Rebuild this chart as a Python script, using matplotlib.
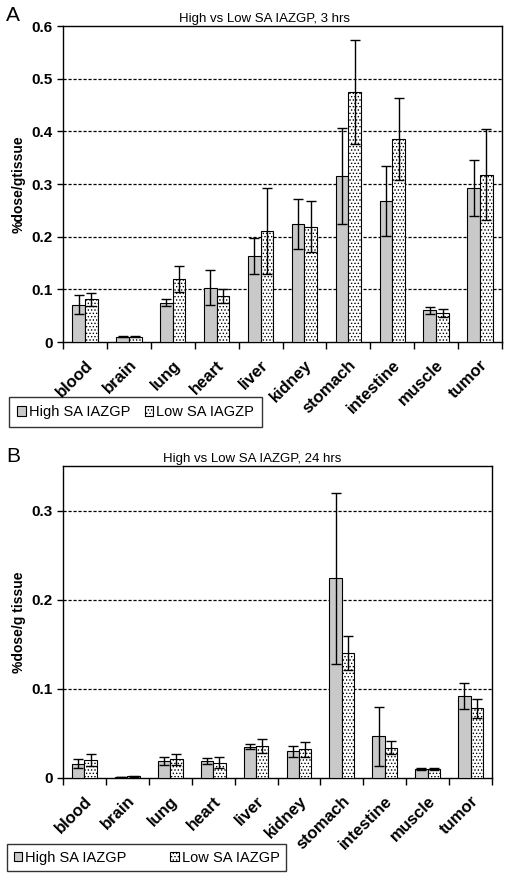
import numpy as np
import matplotlib
matplotlib.use('Agg')
import matplotlib.pyplot as plt
from matplotlib.patches import Patch

plt.rcParams['font.family'] = ['Liberation Sans', 'DejaVu Sans']
plt.rcParams['hatch.linewidth'] = 0.6

tissues = ['blood', 'brain', 'lung', 'heart', 'liver', 'kidney',
           'stomach', 'intestine', 'muscle', 'tumor']

# panel A, 3 hrs
high_3h = [0.071, 0.010, 0.075, 0.103, 0.164, 0.224, 0.315, 0.268, 0.060, 0.292]
high_3h_err = [0.018, 0.001, 0.006, 0.033, 0.034, 0.048, 0.091, 0.067, 0.007, 0.053]
low_3h = [0.081, 0.010, 0.120, 0.088, 0.211, 0.219, 0.475, 0.386, 0.055, 0.318]
low_3h_err = [0.013, 0.001, 0.025, 0.013, 0.082, 0.048, 0.099, 0.078, 0.007, 0.087]

# panel B, 24 hrs
high_24h = [0.016, 0.001, 0.019, 0.019, 0.035, 0.030, 0.224, 0.047, 0.0105, 0.092]
high_24h_err = [0.005, 0.0003, 0.004, 0.003, 0.003, 0.006, 0.096, 0.033, 0.001, 0.015]
low_24h = [0.020, 0.002, 0.021, 0.017, 0.036, 0.032, 0.140, 0.034, 0.0105, 0.078]
low_24h_err = [0.007, 0.0005, 0.006, 0.006, 0.008, 0.008, 0.019, 0.007, 0.001, 0.011]

GRAY = '#c9c9c9'


def draw_panel(ax, high, high_err, low, low_err, ymax, yticks, title, ylabel, title_x):
    x = np.arange(len(tissues))
    w = 0.29
    ax.bar(x - w/2, high, w, color=GRAY, edgecolor='black', linewidth=0.8, zorder=3)
    ax.bar(x + w/2, low, w, color='white', edgecolor='black', hatch='.....',
           linewidth=0.8, zorder=3)
    ax.errorbar(x - w/2, high, yerr=high_err, fmt='none', ecolor='black',
                elinewidth=1, capsize=3.5, capthick=1, zorder=4)
    ax.errorbar(x + w/2, low, yerr=low_err, fmt='none', ecolor='black',
                elinewidth=1, capsize=3.5, capthick=1, zorder=4)
    ax.set_xlim(-0.5, len(tissues) - 0.5)
    ax.set_ylim(0, ymax)
    ax.set_yticks(yticks)
    ax.set_yticklabels([('%g' % t) for t in yticks], fontsize=11, fontweight='bold')
    for t in yticks[1:]:
        if t < ymax - 1e-9:
            ax.axhline(t, color='black', linestyle=(0, (2.5, 1.5)), linewidth=0.9, zorder=1)
    ax.set_xticks(np.arange(len(tissues) + 1) - 0.5)
    ax.set_xticklabels([])
    ax.tick_params(axis='x', which='major', length=5, width=1, direction='out')
    ax.set_xticks(x, minor=True)
    ax.set_xticklabels(tissues, minor=True, rotation=45, ha='right',
                       rotation_mode='anchor', fontsize=12, fontweight='bold')
    ax.tick_params(axis='x', which='minor', length=0, pad=11)
    ax.tick_params(axis='y', length=4, width=1, direction='out')
    for s in ax.spines.values():
        s.set_linewidth(1)
    ax.set_ylabel(ylabel, fontsize=10, fontweight='bold', labelpad=4)
    ax.set_title(title, fontsize=9.5, pad=3, x=title_x)


fig = plt.figure(figsize=(5.09, 8.77), dpi=100)

axA = fig.add_axes([0.1238, 0.610, 0.8625, 0.3603])
draw_panel(axA, high_3h, high_3h_err, low_3h, low_3h_err, 0.6,
           [0, 0.1, 0.2, 0.3, 0.4, 0.5, 0.6], 'High vs Low SA IAZGP, 3 hrs',
           '%dose/gtissue', 0.46)

axB = fig.add_axes([0.1238, 0.1129, 0.8428, 0.3557])
draw_panel(axB, high_24h, high_24h_err, low_24h, low_24h_err, 0.35,
           [0, 0.1, 0.2, 0.3], 'High vs Low SA IAZGP, 24 hrs',
           '%dose/g tissue', 0.44)

fig.text(0.012, 0.982, 'A', fontsize=15, va='center')
fig.text(0.012, 0.480, 'B', fontsize=15, va='center')

hA = Patch(facecolor=GRAY, edgecolor='black', linewidth=0.8)
lA = Patch(facecolor='white', edgecolor='black', hatch='.....', linewidth=0.8)

legA = fig.legend([hA, lA], ['High SA IAZGP', 'Low SA IAGZP'], ncol=2,
                  loc='upper left', bbox_to_anchor=(0.0177, 0.5473),
                  borderaxespad=0, fontsize=10.5, frameon=True, fancybox=False,
                  edgecolor='black', handlelength=0.6, handleheight=0.6,
                  handletextpad=0.2, columnspacing=1.0, borderpad=0.55)
legA.get_frame().set_linewidth(1)

legB = fig.legend([hA, lA], ['High SA IAZGP', 'Low SA IAZGP'], ncol=2,
                  loc='upper left', bbox_to_anchor=(0.0138, 0.0376),
                  borderaxespad=0, fontsize=10.5, frameon=True, fancybox=False,
                  edgecolor='black', handlelength=0.6, handleheight=0.6,
                  handletextpad=0.2, columnspacing=3.0, borderpad=0.45)
legB.get_frame().set_linewidth(1)

fig.savefig('out.png', dpi=100)
